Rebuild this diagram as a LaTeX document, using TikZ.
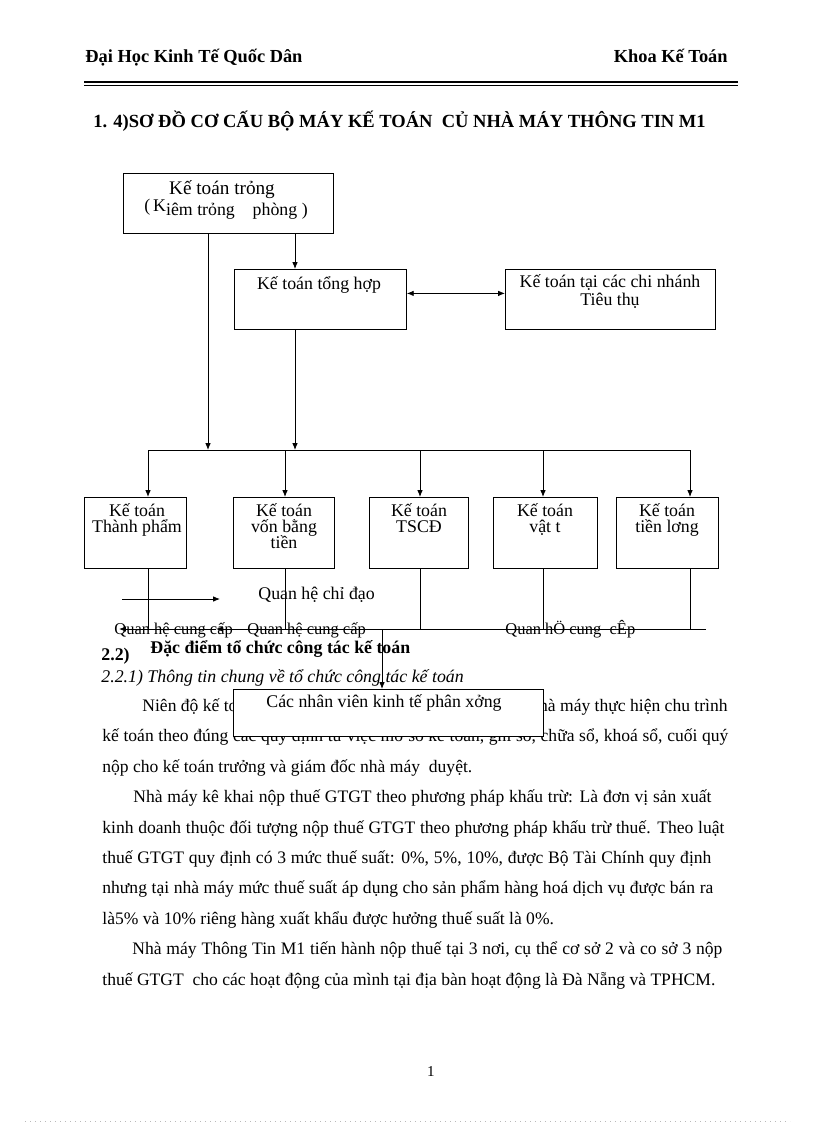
\documentclass[tikz,border=0pt]{standalone}
\usepackage{fontspec}
\setmainfont{Liberation Serif}
\usetikzlibrary{arrows,arrows.meta,calc,positioning}
\newdimen\px \px=0.729pt
\newcommand{\jline}[2]{\makebox[#1\px][s]{#2}}
\tikzset{%
	block/.style    = {draw, rectangle, anchor=north west, inner sep=0pt, fill=white}, % Box
	boxtext/.style  = {anchor=base, inner sep=0pt, font=\fontsize{13}{15}\selectfont}, % Box label
	legend/.style   = {anchor=base west, inner sep=0pt, font=\fontsize{12}{14}\selectfont}, % Legend
	textline/.style = {anchor=base west, inner sep=0pt, font=\fontsize{12.8}{15}\selectfont}, % Body text
	waypoint/.style = {coordinate},
}

\begin{document}
\begin{tikzpicture}[x=0.729pt, y=-0.729pt, line width=0.6pt, >={Latex[length=5pt,width=4pt]}]
	\path[fill=white, use as bounding box] (0,0) rectangle (816,1123);

	% header
	\node[textline, font=\bfseries\fontsize{13.4}{15}\selectfont] (truong) at (85,63) {Đại Học Kinh Tế Quốc Dân};
	\node[textline, anchor=base east, font=\bfseries\fontsize{13.4}{15}\selectfont] (khoa) at (728,63) {Khoa Kế Toán};
	\draw[line width=1.6pt] (84,82) -- (738,82);
	\draw[line width=0.5pt] (84,85.5) -- (738,85.5);
	\node[textline, font=\bfseries\fontsize{13.5}{16}\selectfont] (tieude) at (93,128) {1. 4)SƠ ĐỒ CƠ CẤU BỘ MÁY KẾ TOÁN\ \ CỦ NHÀ MÁY THÔNG TIN M1};

	% boxes
	\node[block, minimum width=210\px, minimum height=60\px] (ktt) at (123,173) {};
	\node[boxtext, font=\fontsize{14}{16}\selectfont] (ktt1) at (222,195) {Kế toán trỏng};
	\node[boxtext] (ktt2) at (226,216) {\raisebox{3pt}{(\,K}iêm trỏng\quad phòng )};
	\node[block, minimum width=172\px, minimum height=60\px] (tonghop) at (234,269) {};
	\node[boxtext] (tonghop1) at (319,289) {Kế toán tổng hợp};
	\node[block, minimum width=210\px, minimum height=60\px] (chinhanh) at (505,269) {};
	\node[boxtext] (chinhanh1) at (610,288) {Kế toán tại các chi nhánh};
	\node[boxtext] (chinhanh2) at (610,305) {Tiêu thụ};

	\node[block, minimum width=102\px, minimum height=71\px] (tp) at (84,497) {};
	\node[boxtext] (tp1) at (137,516) {Kế toán};
	\node[boxtext] (tp2) at (137,532) {Thành phẩm};
	\node[block, minimum width=101\px, minimum height=71\px] (von) at (233,497) {};
	\node[boxtext] (von1) at (284,516) {Kế toán};
	\node[boxtext] (von2) at (284,532) {vốn bằng};
	\node[boxtext] (von3) at (284,548) {tiền};
	\node[block, minimum width=99\px, minimum height=71\px] (tscd) at (369,497) {};
	\node[boxtext] (tscd1) at (419,516) {Kế toán};
	\node[boxtext] (tscd2) at (419,532) {TSCĐ};
	\node[block, minimum width=104\px, minimum height=71\px] (vattu) at (493,497) {};
	\node[boxtext] (vattu1) at (545,516) {Kế toán};
	\node[boxtext] (vattu2) at (545,532) {vật t};
	\node[block, minimum width=102\px, minimum height=71\px] (luong) at (616,497) {};
	\node[boxtext] (luong1) at (667,516) {Kế toán};
	\node[boxtext] (luong2) at (667,532) {tiền lơng};

	% legend
	\node[legend, font=\fontsize{13}{15}\selectfont] (chidao) at (258,599) {Quan hệ chỉ đạo};
	\node[legend] (cungcap1) at (114,634) {Quan hệ cung\ cấp};
	\node[legend] (cungcap2) at (247,634) {Quan hệ cung\ cấp};
	\node[legend] (cungcap3) at (505,634) {Quan hÖ cung\ \ cÊp};

	% text
	\node[textline, font=\bfseries\fontsize{13}{15}\selectfont] (muc22) at (101,660) {2.2)};
	\node[textline, font=\bfseries\fontsize{13}{15}\selectfont] (dacdiem) at (150,653) {Đặc điểm tổ chức công tác kế toán};
	\node[textline, font=\itshape\fontsize{13}{15}\selectfont] (muc221) at (101,682) {2.2.1) Thông tin chung về tổ chức công tác kế toán};
	\node[textline] (l1a) at (142,711) {Niên độ kế toán};
	\node[textline, anchor=base east] (l1b) at (728,711) {nhà máy thực hiện chu trình};
	\node[textline] (l2) at (102,741) {\jline{626}{kế toán theo đúng các quy định từ việc mở sổ kế toán, ghi sổ, chữa sổ, khoá sổ, cuối quý}};
	\node[textline] (l3) at (102,772) {nộp cho kế toán trưởng và giám đốc nhà máy\ \ duyệt.};
	\node[textline] (l4) at (133,802) {\jline{578}{Nhà máy kê khai nộp thuế GTGT theo phương pháp khấu trừ: Là đơn vị sản xuất}};
	\node[textline] (l5) at (102,833) {\jline{622}{kinh doanh thuộc đối tượng nộp thuế GTGT theo phương pháp khấu trừ thuế. Theo luật}};
	\node[textline] (l6) at (102,863) {\jline{609}{thuế GTGT quy định có 3 mức thuế suất: 0\%, 5\%, 10\%, được Bộ Tài Chính quy định}};
	\node[textline] (l7) at (102,893) {\jline{611}{nhưng tại nhà máy mức thuế suất áp dụng cho sản phẩm hàng hoá dịch vụ được bán ra}};
	\node[textline] (l8) at (102,924) {là5\% và 10\% riêng hàng xuất khẩu được hưởng thuế suất là 0\%.};
	\node[textline] (l9) at (132,954) {\jline{590}{Nhà máy Thông Tin M1 tiến hành nộp thuế tại 3 nơi, cụ thể cơ sở 2 và co sở 3 nộp}};
	\node[textline] (l10) at (102,985) {thuế GTGT\ \ cho các hoạt động của mình tại địa bàn hoạt động là Đà Nẵng và TPHCM.};

	\node[block, minimum width=310\px, minimum height=47\px] (nhanvien) at (233,689) {};
	\node[boxtext] (nhanvien1) at (384,707) {Các nhân viên kinh tế phân xởng};

	\node[textline, anchor=base, font=\fontsize{11}{13}\selectfont] (trang) at (431,1076) {1};
	\draw[gray!55, line width=0.8\px, dash pattern=on 1\px off 4\px] (25,1121) -- (790,1121);

	% connectors
	\coordinate (busa) at (208,450);
	\coordinate (busb) at (295,450);
	\coordinate (d1) at (148,450);
	\coordinate (d2) at (285,450);
	\coordinate (d3) at (420,450);
	\coordinate (d4) at (543,450);
	\coordinate (d5) at (690,450);
	\coordinate (cc) at (0,629);
	\coordinate (ccl) at (119,629);
	\coordinate (ccm) at (216,629);
	\coordinate (ccr) at (706,629);
	\coordinate (ccd) at (382,629);
	\coordinate (lga) at (122,599);
	\coordinate (lgb) at (220,599);

	\draw[->] (ktt.south -| busa) -- (busa);
	\draw[->] (ktt.south -| busb) -- (tonghop.north -| busb);
	\draw[->] (tonghop.south -| busb) -- (busb);
	\draw[<->] ([yshift=6\px]tonghop.east) -- ([yshift=6\px]chinhanh.west);
	\draw (d1) -- (d5);
	\draw[->] (d1) -- (d1 |- tp.north);
	\draw[->] (d2) -- (d2 |- von.north);
	\draw[->] (d3) -- (d3 |- tscd.north);
	\draw[->] (d4) -- (d4 |- vattu.north);
	\draw[->] (d5) -- (d5 |- luong.north);
	\draw (tp.south -| d1) -- (d1 |- cc);
	\draw (von.south -| d2) -- (d2 |- cc);
	\draw (tscd.south -| d3) -- (d3 |- cc);
	\draw (vattu.south -| d4) -- (d4 |- cc);
	\draw (luong.south -| d5) -- (d5 |- cc);
	\draw[->] (ccr) -- (ccm);
	\draw[->] (ccm) -- (ccl);
	\draw[->] (ccd) -- (ccd |- nhanvien.north);
	\draw[->] (lga) -- (lgb);
\end{tikzpicture}
\end{document}
